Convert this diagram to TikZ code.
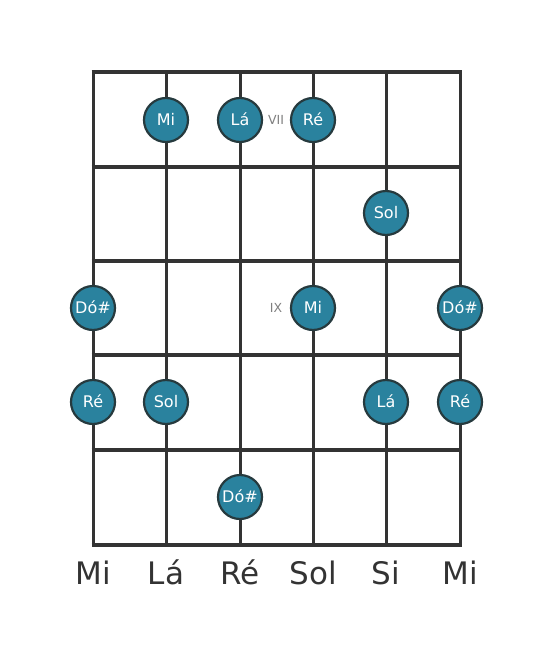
\documentclass[tikz,border=0pt]{standalone}
\usepackage{fontspec}
\setmainfont{DejaVu Sans}
\definecolor{linec}{HTML}{333333}
\definecolor{notefill}{HTML}{2A829E}
\definecolor{noteedge}{HTML}{263A3E}
\definecolor{fretlbl}{HTML}{808080}
\tikzset{
  stringline/.style={draw=linec, line width=3pt},
  fretline/.style={draw=linec, line width=4.5pt},
  note/.style={circle, fill=notefill, draw=noteedge, line width=2.2pt, minimum size=44pt, inner sep=0pt, text=white, font=\fontsize{16}{16}\selectfont, text height=11.7pt, text depth=0pt},
  fretnum/.style={text=fretlbl, font=\fontsize{12.5}{12.5}\selectfont, inner sep=0pt},
  strname/.style={text=linec, font=\fontsize{31}{31}\selectfont, inner sep=0pt, anchor=base}
}
\begin{document}
\begin{tikzpicture}[x=1pt,y=-1pt]
\useasboundingbox (0,0) rectangle (553,656);
\fill[white] (0,0) rectangle (553,656);
% strings
\foreach \x/\n in {93/1,166/2,240/3,313/4,386/5,460/6} {
  \coordinate (s\n t) at (\x,72);
  \coordinate (s\n b) at (\x,545);
  \draw[stringline] (s\n t) -- (s\n b);
}
% frets
\foreach \y/\n in {72/0,167/1,261/2,355/3,450/4,545/5} {
  \coordinate (f\n l) at (93,\y);
  \coordinate (f\n r) at (460,\y);
  \draw[fretline] ([xshift=-1.5pt]f\n l) -- ([xshift=1.5pt]f\n r);
}
% fret labels
\node[fretnum] (vii) at (276,120) {VII};
\node[fretnum] (ix) at (276,308) {IX};
% notes
\node[note] (n1) at (166,120) {Mi};
\node[note] (n2) at (240,120) {Lá};
\node[note] (n3) at (313,120) {Ré};
\node[note] (n4) at (386,213) {Sol};
\node[note] (n5) at (93,308) {Dó\#};
\node[note] (n6) at (313,308) {Mi};
\node[note] (n7) at (460,308) {Dó\#};
\node[note] (n8) at (93,402) {Ré};
\node[note] (n9) at (166,402) {Sol};
\node[note] (n10) at (386,402) {Lá};
\node[note] (n11) at (460,402) {Ré};
\node[note] (n12) at (240,497) {Dó\#};
% string names
\node[strname] (l1) at (93,584) {Mi};
\node[strname] (l2) at (166,584) {Lá};
\node[strname] (l3) at (240,584) {Ré};
\node[strname] (l4) at (313,584) {Sol};
\node[strname] (l5) at (386,584) {Si};
\node[strname] (l6) at (460,584) {Mi};
\end{tikzpicture}
\end{document}
